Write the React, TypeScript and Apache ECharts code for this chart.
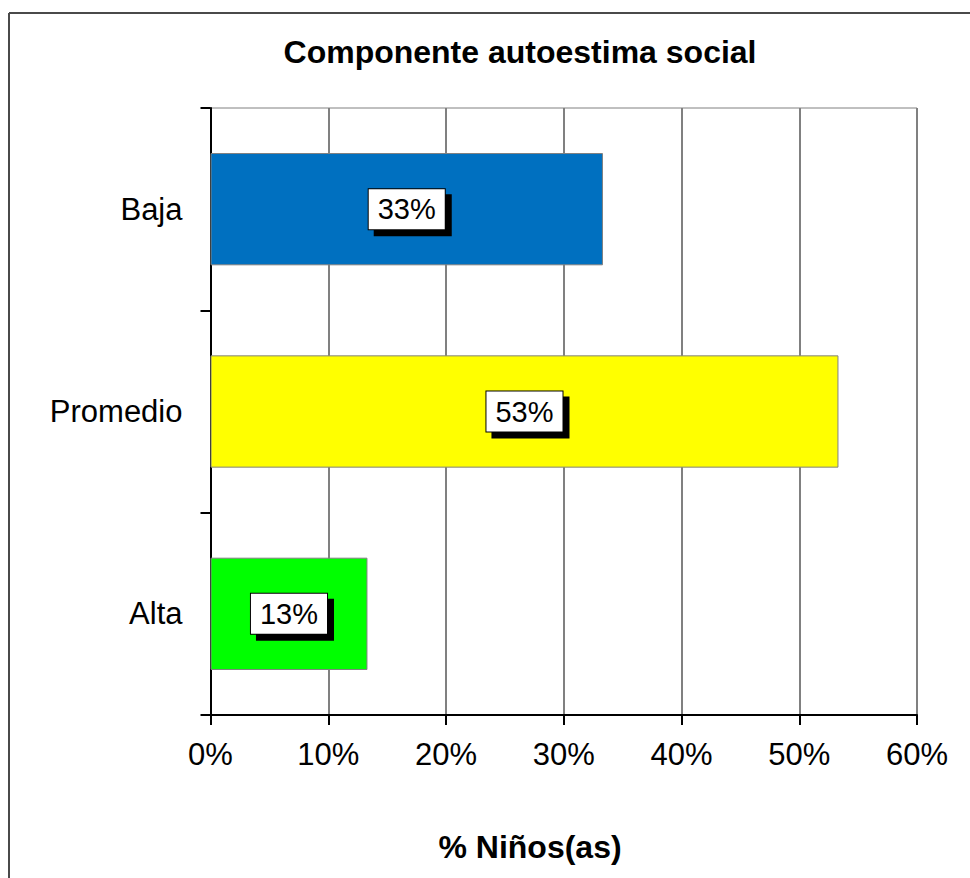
import React, { useEffect, useRef } from "react";
import * as echarts from "echarts";

const categories = ["Baja", "Promedio", "Alta"];
const values = [33.33, 53.33, 13.33];
const barColors = ["#0070C0", "#FFFF00", "#00FF00"];
const xTicks = [0, 10, 20, 30, 40, 50, 60];
const titleText = "Componente autoestima social";
const xAxisTitle = "% Niños(as)";

const FONT = "'Liberation Sans', Arial, sans-serif";

export default function App() {
  const ref = useRef<HTMLDivElement>(null);
  useEffect(() => {
    if (!ref.current) return;
    const chart = echarts.init(ref.current, undefined, { renderer: "svg" });
    chart.setOption({
      animation: false,
      backgroundColor: "#ffffff",
      textStyle: { fontFamily: FONT },
      grid: {
        left: 210.5,
        right: 53,
        top: 108,
        bottom: 163,
        show: true,
        borderColor: "#808080",
        borderWidth: 1,
        backgroundColor: "transparent",
      },
      xAxis: {
        type: "value",
        min: xTicks[0],
        max: xTicks[xTicks.length - 1],
        interval: 10,
        axisLine: { show: true, lineStyle: { color: "#000", width: 2 } },
        axisTick: { show: true, length: 10, lineStyle: { color: "#000", width: 2 } },
        splitLine: { show: true, lineStyle: { color: "#808080", width: 2 } },
        axisLabel: {
          fontSize: 31,
          color: "#000",
          fontFamily: FONT,
          margin: 24,
          formatter: (v: number) => `${v}%`,
        },
      },
      yAxis: {
        type: "category",
        data: categories,
        inverse: true,
        axisLine: { show: true, lineStyle: { color: "#000", width: 2 } },
        axisTick: { show: true, length: 10, lineStyle: { color: "#000", width: 2 } },
        axisLabel: { fontSize: 31, color: "#000", fontFamily: FONT, margin: 28 },
        splitLine: { show: false },
      },
      series: [
        {
          type: "bar",
          barCategoryGap: "44.5%",
          data: values.map((v, i) => ({
            value: v,
            itemStyle: { color: barColors[i] },
          })),
          itemStyle: { borderColor: "#808080", borderWidth: 1 },
          label: {
            show: true,
            position: "inside",
            formatter: (p: any) => `${Math.round(p.value)}%`,
            fontSize: 29,
            fontFamily: FONT,
            color: "#000",
            backgroundColor: "#fff",
            borderColor: "#000",
            borderWidth: 1,
            padding: [6, 9, 5, 9],
            shadowColor: "#000",
            shadowBlur: 0,
            shadowOffsetX: 6,
            shadowOffsetY: 6,
          },
        },
      ],
      graphic: [
        {
          type: "line",
          shape: { x1: 9, y1: 13, x2: 970, y2: 13 },
          style: { stroke: "#4a4a4a", lineWidth: 2 },
        },
        {
          type: "line",
          shape: { x1: 9, y1: 13, x2: 9, y2: 878 },
          style: { stroke: "#4a4a4a", lineWidth: 2 },
        },
        {
          type: "text",
          x: 520,
          y: 52,
          style: {
            text: titleText,
            font: `bold 32px ${FONT}`,
            fill: "#000",
            textAlign: "center",
            textVerticalAlign: "middle",
          },
        },
        {
          type: "text",
          x: 530,
          y: 847,
          style: {
            text: xAxisTitle,
            font: `bold 32px ${FONT}`,
            fill: "#000",
            textAlign: "center",
            textVerticalAlign: "middle",
          },
        },
      ],
    });
    return () => chart.dispose();
  }, []);
  return (
    <div
      ref={ref}
      style={{ position: "fixed", left: 0, top: 0, width: 970, height: 878 }}
    />
  );
}
